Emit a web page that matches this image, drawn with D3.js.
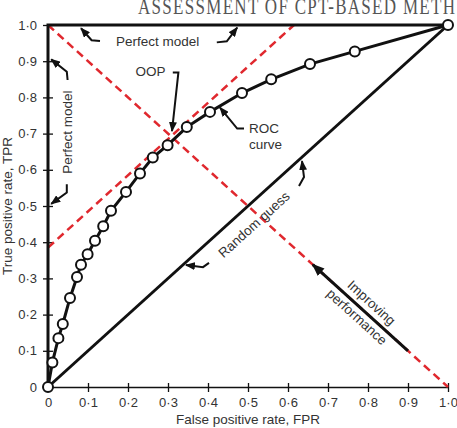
<!DOCTYPE html>
<html>
<head>
<meta charset="utf-8">
<script src="https://cdn.jsdelivr.net/npm/d3@7"></script>
<style>
    body { margin: 0; background: #fff; }
    .axis text { font-family: "Liberation Sans", Arial, sans-serif; font-size: 13px; fill: #333; }
    .label { font-family: "Liberation Sans", Arial, sans-serif; font-size: 13.5px; fill: #333; }
</style>
</head>
<body>
<div id="chart"></div>
<script>

// ROC curve points
const fprValues = [0, 0.011, 0.026, 0.037, 0.055, 0.0725, 0.0825, 0.099, 0.1175, 0.138, 0.1575,
    0.195, 0.23, 0.262, 0.299, 0.347, 0.405, 0.485, 0.558, 0.655, 0.767, 1];
const tprValues = [0, 0.068, 0.135, 0.174, 0.246, 0.304, 0.338, 0.367, 0.404, 0.444, 0.487,
    0.539, 0.59, 0.634, 0.668, 0.718, 0.76, 0.812, 0.85, 0.892, 0.927, 1];

const tickValues = [0, 0.1, 0.2, 0.3, 0.4, 0.5, 0.6, 0.7, 0.8, 0.9, 1.0];

// reference lines (data units)
const perfectModel = [[0, 0], [0, 1], [1, 1]];
const randomGuess = [[0, 0], [1, 1]];
const oopLine = [[0, 0.385], [0.615, 1]];
const antiDiagonal = [[0, 1], [1, 0]];
const improvingArrow = [[0.9, 0.1], [0.662, 0.338]];

// annotation pointers (data units, last point = arrow tip)
const pointers = [
    [[0.13, 0.956], [0.109, 0.958], [0.0825, 0.991]],
    [[0.422, 0.952], [0.447, 0.955], [0.473, 0.993]],
    [[0.049, 0.848], [0.047, 0.871], [0.008, 0.905]],
    [[0.047, 0.56], [0.047, 0.537], [0.008, 0.506]],
    [[0.312, 0.869], [0.326, 0.869], [0.31, 0.707]],
    [[0.49, 0.714], [0.473, 0.714], [0.43, 0.772]],
    [[0.6275, 0.555], [0.64, 0.58], [0.635, 0.624]],
    [[0.4025, 0.343], [0.3875, 0.331], [0.345, 0.337]]
];

let margin = { top: 25, right: 9, bottom: 41, left: 48 };
let width = 457 - margin.left - margin.right,
    height = 428 - margin.top - margin.bottom;

let root = d3.select("#chart").append("svg")
    .attr("width", 457)
    .attr("height", 428);

// running header of the page (top is cut off in the scan)
root.append("text")
    .attr("transform", "translate(138,14) scale(1,1.3)")
    .style("font-family", "'Liberation Serif', 'Times New Roman', serif")
    .style("font-size", "17px")
    .style("letter-spacing", "1.3px")
    .style("fill", "#555")
    .text("ASSESSMENT OF CPT-BASED METH");

let svg = root.append("g")
    .attr("transform", "translate(" + margin.left + "," + margin.top + ")");

let defs = root.append("defs");
defs.append("marker")
    .attr("id", "head")
    .attr("markerUnits", "userSpaceOnUse")
    .attr("viewBox", "0 0 10 8")
    .attr("refX", 9).attr("refY", 4)
    .attr("markerWidth", 10).attr("markerHeight", 8)
    .attr("orient", "auto")
    .append("path").attr("d", "M0,0L10,4L0,8Z").style("fill", "#111");
defs.append("marker")
    .attr("id", "bighead")
    .attr("markerUnits", "userSpaceOnUse")
    .attr("viewBox", "0 0 10 8")
    .attr("refX", 9).attr("refY", 4)
    .attr("markerWidth", 13).attr("markerHeight", 10)
    .attr("orient", "auto")
    .append("path").attr("d", "M0,0L10,4L0,8Z").style("fill", "#111");

// Scales and axes
let x = d3.scaleLinear().domain([0, 1]).range([0, width]);
let y = d3.scaleLinear().domain([0, 1]).range([height, 0]);

let fmt = d => d === 0 ? "0" : d.toFixed(1).replace(".", "\u00B7");

let xAxis = d3.axisBottom(x).tickValues(tickValues).tickFormat(fmt)
    .tickSize(5).tickSizeOuter(0).tickPadding(6);
let yAxis = d3.axisLeft(y).tickValues(tickValues).tickFormat(fmt)
    .tickSize(5).tickSizeOuter(0).tickPadding(6);

let gx = svg.append("g")
    .attr("class", "x-axis axis")
    .attr("transform", "translate(0," + height + ")")
    .call(xAxis);
gx.select(".domain").style("stroke", "#111").style("stroke-width", 1.5);
gx.selectAll(".tick line").attr("y1", -4).style("stroke", "#111").style("stroke-width", 1.3);

let gy = svg.append("g")
    .attr("class", "y-axis axis")
    .call(yAxis);
gy.select(".domain").remove();
gy.selectAll(".tick line").attr("x1", 5).style("stroke", "#111").style("stroke-width", 1.3);

let line = d3.line().x(d => x(d[0])).y(d => y(d[1]));

// Red dashed guides
[oopLine, antiDiagonal].forEach(function (pts) {
    svg.append("path")
        .attr("d", line(pts))
        .style("fill", "none")
        .style("stroke", "#e0282e")
        .style("stroke-width", 2.5)
        .style("stroke-dasharray", "8,5");
});

// Perfect model and random guess
svg.append("path")
    .attr("d", line(perfectModel))
    .style("fill", "none").style("stroke", "#111").style("stroke-width", 3);
svg.append("path")
    .attr("d", line(randomGuess))
    .style("fill", "none").style("stroke", "#111").style("stroke-width", 3);

// ROC curve
let roc = fprValues.map((f, i) => [f, tprValues[i]]);
svg.append("path")
    .attr("d", line(roc))
    .style("fill", "none").style("stroke", "#111").style("stroke-width", 3);
svg.selectAll(".pt")
    .data(roc)
    .enter().append("circle")
    .attr("class", "pt")
    .attr("cx", d => x(d[0]))
    .attr("cy", d => y(d[1]))
    .attr("r", 5)
    .style("fill", "#fff").style("stroke", "#111").style("stroke-width", 2);

// Pointers
svg.selectAll(".pointer")
    .data(pointers)
    .enter().append("path")
    .attr("class", "pointer")
    .attr("d", d => line(d))
    .attr("marker-end", "url(#head)")
    .style("fill", "none").style("stroke", "#111").style("stroke-width", 2);

svg.append("path")
    .attr("d", line(improvingArrow))
    .attr("marker-end", "url(#bighead)")
    .style("fill", "none").style("stroke", "#111").style("stroke-width", 3);

// Labels
let angle = Math.atan2(y(1) - y(0), x(1) - x(0)) * 180 / Math.PI;

svg.append("text").attr("class", "label")
    .attr("x", x(0.274)).attr("y", y(0.943))
    .style("text-anchor", "middle").text("Perfect model");
svg.append("text").attr("class", "label")
    .attr("transform", "translate(" + x(0.059) + "," + y(0.704) + ") rotate(-90)")
    .style("text-anchor", "middle").text("Perfect model");
svg.append("text").attr("class", "label")
    .attr("x", x(0.256)).attr("y", y(0.858))
    .style("text-anchor", "middle").text("OOP");
svg.append("text").attr("class", "label")
    .attr("x", x(0.5025)).attr("y", y(0.702)).text("ROC");
svg.append("text").attr("class", "label")
    .attr("x", x(0.5025)).attr("y", y(0.657)).text("curve");
svg.append("text").attr("class", "label")
    .attr("transform", "translate(" + x(0.515) + "," + y(0.449) + ") rotate(" + angle + ")")
    .attr("dy", "0.35em")
    .style("text-anchor", "middle").text("Random guess");
svg.append("text").attr("class", "label")
    .attr("transform", "translate(" + x(0.809) + "," + y(0.233) + ") rotate(" + (-angle) + ")")
    .attr("dy", "0.35em")
    .style("text-anchor", "middle").text("Improving");
svg.append("text").attr("class", "label")
    .attr("transform", "translate(" + x(0.7725) + "," + y(0.194) + ") rotate(" + (-angle) + ")")
    .attr("dy", "0.35em")
    .style("text-anchor", "middle").text("performance");

// Axis titles
svg.append("text").attr("class", "label")
    .attr("x", width / 2)
    .attr("y", height + 37)
    .style("text-anchor", "middle")
    .text("False positive rate, FPR");
svg.append("text").attr("class", "label")
    .attr("transform", "translate(" + (12 - margin.left) + "," + (height / 2) + ") rotate(-90)")
    .style("text-anchor", "middle")
    .text("True positive rate, TPR");

</script>
</body>
</html>
